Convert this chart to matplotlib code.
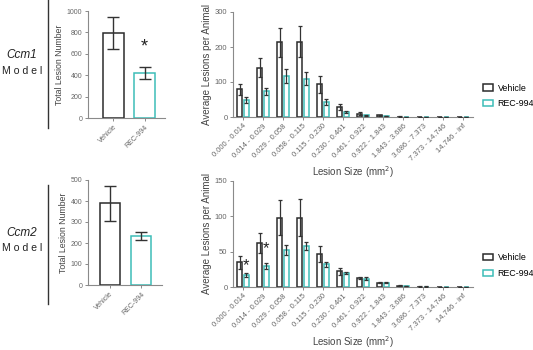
import numpy as np
import matplotlib
matplotlib.use('Agg')
import matplotlib.pyplot as plt
from matplotlib.lines import Line2D
from matplotlib.patches import Patch

plt.rcParams['font.family'] = ['Liberation Sans', 'DejaVu Sans']

# datos
grupos = ['Vehicle', 'REC-994']
tamanos = ['0.000 - 0.014', '0.014 - 0.029', '0.029 - 0.058', '0.058 - 0.115',
           '0.115 - 0.230', '0.230 - 0.461', '0.461 - 0.922', '0.922 - 1.843',
           '1.843 - 3.686', '3.686 - 7.373', '7.373 - 14.746', '14.746 - inf']

ccm1_total = [795, 420]
ccm1_total_err = [152, 55]
ccm1_veh = [79, 141, 213, 215, 93, 29, 10, 4.5, 1, 0.5, 0, 0.3]
ccm1_veh_err = [15, 28, 41, 45, 24, 9, 3, 1.5, 0.5, 0.3, 0, 0.2]
ccm1_rec = [48, 74, 117, 110, 42, 14, 5, 2, 1, 0.3, 0, 0]
ccm1_rec_err = [8, 10, 19, 18, 9, 3, 1, 0.5, 0.3, 0.2, 0, 0]

ccm2_total = [390, 233]
ccm2_total_err = [83, 21]
ccm2_veh = [35, 62, 98, 98, 47, 22, 12.7, 6, 2, 0.7, 0.4, 0.2]
ccm2_veh_err = [9, 14, 25, 26, 11, 5, 1.5, 1, 0.5, 0.2, 0.1, 0.1]
ccm2_rec = [17, 30, 52, 58, 32, 20, 12, 6, 1.5, 0.7, 0.3, 0.2]
ccm2_rec_err = [2.5, 4, 7, 6, 3, 1.6, 2, 1, 0.5, 0.2, 0.1, 0.1]

c_veh = '#2b2b2b'
c_rec = '#3dbdb8'
c_ax = '#8a8a8a'
c_txt = '#666666'

fig = plt.figure(figsize=(5.33, 3.5), dpi=100)
W, H = 533.0, 350.0


def ejes(x0, y0, x1, y1):
    return fig.add_axes([x0 / W, 1 - y1 / H, (x1 - x0) / W, (y1 - y0) / H])


def estilo(ax, ls):
    for s in ['top', 'right']:
        ax.spines[s].set_visible(False)
    for s in ['left', 'bottom']:
        ax.spines[s].set_color(c_ax)
        ax.spines[s].set_linewidth(0.8)
    ax.tick_params(colors=c_ax, labelcolor=c_txt, labelsize=ls, length=2.5, width=0.7, pad=1.5)


def total(ax, vals, errs, ymax, xlim):
    x = np.arange(2)
    ax.bar(x, vals, width=0.66, facecolor='white', edgecolor=[c_veh, c_rec], linewidth=1.1, zorder=2)
    ax.errorbar(x, vals, yerr=errs, fmt='none', ecolor='#333333', elinewidth=1.0, capsize=4, capthick=1.0, zorder=3)
    ax.set_xlim(*xlim)
    ax.set_ylim(0, ymax)
    ax.set_yticks(np.linspace(0, ymax, 6))
    ax.set_xticks(x)
    ax.set_xticklabels(grupos, rotation=45, ha='right', rotation_mode='anchor')
    ax.set_ylabel('Total Lesion Number', fontsize=6.3, color='#444444', labelpad=2)
    estilo(ax, 5)


def tamano(ax, veh, veh_err, rec, rec_err, ymax, paso):
    x = np.arange(len(tamanos))
    w = 0.28
    ax.bar(x - 0.17, veh, width=w, facecolor='white', edgecolor=c_veh, linewidth=1.1, zorder=2)
    ax.bar(x + 0.17, rec, width=w, facecolor='white', edgecolor=c_rec, linewidth=1.1, zorder=2)
    ax.errorbar(x - 0.17, veh, yerr=veh_err, fmt='none', ecolor='#333333', elinewidth=0.9, capsize=1.2, capthick=0.9, zorder=3)
    ax.errorbar(x + 0.17, rec, yerr=rec_err, fmt='none', ecolor='#333333', elinewidth=0.9, capsize=1.2, capthick=0.9, zorder=3)
    ax.set_xlim(-0.5, 11.5)
    ax.set_ylim(0, ymax)
    ax.set_yticks(np.arange(0, ymax + 1, paso))
    ax.set_xticks(x)
    ax.set_xticklabels(tamanos, rotation=45, ha='right', rotation_mode='anchor')
    ax.set_ylabel('Average Lesions per Animal', fontsize=7, color='#444444', labelpad=2)
    ax.set_xlabel('Lesion Size (mm$^2$)', fontsize=7, color='#444444', labelpad=1)
    estilo(ax, 5.5)
    h = [Patch(facecolor='white', edgecolor=c_veh, linewidth=1.1),
         Patch(facecolor='white', edgecolor=c_rec, linewidth=1.1)]
    ax.legend(h, grupos, loc='center left', bbox_to_anchor=(1.04, 0.2), frameon=False, borderpad=0,
              borderaxespad=0, fontsize=6.4, handlelength=1.2, handleheight=0.7, labelspacing=0.75,
              handletextpad=0.5)


# Ccm1
ax1 = ejes(88, 11, 165, 118)
total(ax1, ccm1_total, ccm1_total_err, 1000, (-0.82, 1.66))
ax1.text(1, 660, '*', ha='center', va='center', fontsize=13, color='#222222')

ax2 = ejes(233, 12, 473, 117)
tamano(ax2, ccm1_veh, ccm1_veh_err, ccm1_rec, ccm1_rec_err, 300, 100)

# Ccm2
ax3 = ejes(88, 180, 162, 285)
total(ax3, ccm2_total, ccm2_total_err, 500, (-0.71, 1.68))

ax4 = ejes(233, 181, 473, 287)
tamano(ax4, ccm2_veh, ccm2_veh_err, ccm2_rec, ccm2_rec_err, 150, 50)
ax4.text(0.17, 30, '*', ha='center', va='center', fontsize=12, color='#222222')
ax4.text(1.17, 54, '*', ha='center', va='center', fontsize=12, color='#222222')

# etiquetas de modelo y lineas verticales
fig.text(22 / W, 1 - 55 / H, 'Ccm1', style='italic', fontsize=8.5, ha='center', va='center', color='#222222')
fig.text(22 / W, 1 - 71 / H, 'M o d e l', fontsize=7.6, ha='center', va='center', color='#222222')
fig.text(22 / W, 1 - 233 / H, 'Ccm2', style='italic', fontsize=8.5, ha='center', va='center', color='#222222')
fig.text(22 / W, 1 - 248 / H, 'M o d e l', fontsize=7.6, ha='center', va='center', color='#222222')
fig.add_artist(Line2D([47.5 / W, 47.5 / W], [1 - 0 / H, 1 - 128 / H], color='#333333', lw=1.0))
fig.add_artist(Line2D([47.5 / W, 47.5 / W], [1 - 185 / H, 1 - 304 / H], color='#333333', lw=1.0))

plt.savefig('out.png', dpi=100)
